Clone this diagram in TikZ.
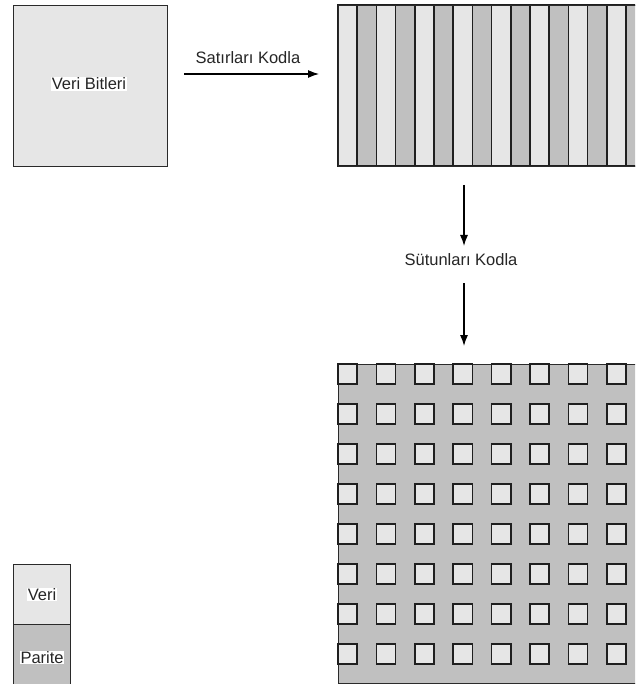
\documentclass[tikz,border=0pt]{standalone}
\usepackage{fontspec}
\setmainfont{Liberation Sans}
\usetikzlibrary{arrows.meta}
\definecolor{lightfill}{HTML}{E6E6E6}
\definecolor{darkfill}{HTML}{C0C0C0}
\definecolor{edgec}{HTML}{2A2A2A}
\begin{document}
\begin{tikzpicture}[x=1pt,y=-1pt,
  box/.style={draw=edgec,line width=1.2pt,inner sep=0pt,anchor=north west},
  lbl/.style={font=\fontsize{16.5}{19}\selectfont,text=black!85,inner sep=0.6pt},
  cell/.style={draw=black!88,line width=1.5pt},
  arr/.style={line width=1.2pt,-{Latex[length=11pt,width=8pt]}}]
\useasboundingbox (0,0) rectangle (635,684);
\clip (0,0) rectangle (635,684);
\fill[white] (0,0) rectangle (635,684);

% data box
\node[box,fill=lightfill,minimum width=154pt,minimum height=161pt] (data) at (13,5) {};
\node[lbl,fill=white] (datalbl) at (89,84) {Veri Bitleri};

% striped block (rows encoded)
\foreach \i in {0,...,15}{
  \pgfmathsetmacro{\xx}{338+19.2*\i}
  \ifodd\i
    \filldraw[cell,fill=darkfill] (\xx,5) rectangle ++(19.2,161);
  \else
    \filldraw[cell,fill=lightfill] (\xx,5) rectangle ++(19.2,161);
  \fi
}
\node[box,minimum width=310pt,minimum height=161pt] (rowsblk) at (338,5) {};

% horizontal arrow
\coordinate (h1) at (184,74);
\coordinate (h2) at (319,74);
\draw[arr] (h1) -- (h2);
\node[lbl] (rowlbl) at (248,58) {Satırları Kodla};

% vertical arrows
\node[lbl] (collbl) at (461,260) {Sütunları Kodla};
\coordinate (v1) at (464,185);
\coordinate (v2) at (464,246);
\coordinate (v3) at (464,283);
\coordinate (v4) at (464,346);
\draw[arr] (v1) -- (v2);
\draw[arr] (v3) -- (v4);

% product grid
\node[box,fill=darkfill,minimum width=310pt,minimum height=319pt] (grid) at (338,364) {};
\foreach \c in {0,...,7}{
  \foreach \r in {0,...,7}{
    \filldraw[cell,fill=lightfill] (338+38.4*\c,364+40*\r) rectangle ++(19.2,20);
  }
}

% legend
\node[box,fill=lightfill,minimum width=57pt,minimum height=60pt] (legdata) at (13,564) {};
\node[box,fill=darkfill,minimum width=57pt,minimum height=64pt] (legpar) at (13,624) {};
\node[lbl,fill=white] (legdatalbl) at (legdata.center) {Veri};
\node[lbl,fill=white] (legparlbl) at ([yshift=-1pt]legpar.center) {Parite};
\end{tikzpicture}
\end{document}
